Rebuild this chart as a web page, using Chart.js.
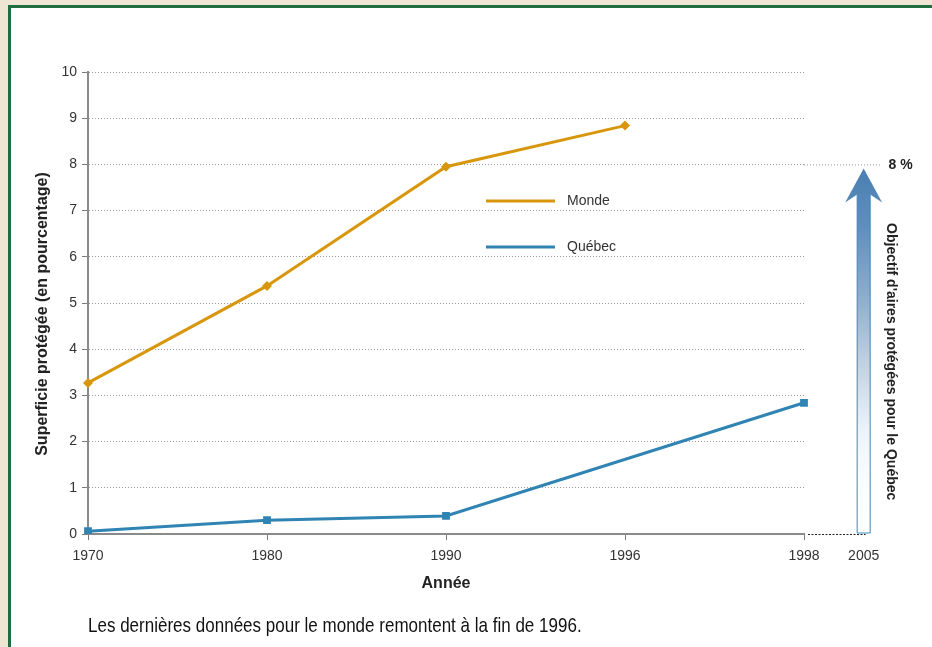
<!DOCTYPE html>
<html lang="fr">
<head>
<meta charset="utf-8">
<script src="https://cdn.jsdelivr.net/npm/chart.js@4.4.1/dist/chart.umd.min.js"></script>
<style>
  html, body { margin: 0; padding: 0; }
  body { width: 932px; height: 647px; overflow: hidden; background: #efe5d3; position: relative; font-family: "Liberation Sans", Arial, sans-serif; }
  #panel { position: absolute; left: 8px; top: 5px; width: 1000px; height: 1000px; background: #fff; border: 3px solid #1f6e40; box-sizing: border-box; }
  #wrap { position: absolute; left: 0; top: 0; width: 932px; height: 647px; }
  #note { position: absolute; left: 88px; top: 613px; font-family: "Liberation Sans", Arial, sans-serif; font-size: 21px; color: #111; white-space: nowrap; transform: scaleX(0.81); transform-origin: 0 0; }
</style>
</head>
<body>
<div id="panel"></div>
<div id="wrap"><canvas id="c" width="932" height="647"></canvas></div>
<div id="note">Les dernières données pour le monde remontent à la fin de 1996.</div>
<script>
// Years on the horizontal axis
const years = ['1970', '1980', '1990', '1996', '1998'];
// Share of protected territory (%)
const monde = [3.27, 5.37, 7.95, 8.84, null];
const quebec = [0.06, 0.30, 0.39, null, 2.84];
// Québec target
const objectifAnnee = '2005';
const objectifValeur = 8;
const objectifTexte = "Objectif d'aires protégées pour le Québec";
const titreY = 'Superficie protégée (en pourcentage)';

const FONT = '"Liberation Sans", Arial, sans-serif';

// Legend, target arrow, y title and extra guide lines
const extras = {
  id: 'extras',
  afterDraw(chart) {
    const { ctx, chartArea } = chart;
    const xs = chart.scales.x, ys = chart.scales.y;
    const last = xs.getPixelForValue(years.length - 1);
    const step = last - xs.getPixelForValue(years.length - 2);
    const ax = last + step / 3;           // position of 2005
    const y8 = ys.getPixelForValue(objectifValeur);
    const y0 = ys.getPixelForValue(0);

    ctx.save();
    // extended target line at 8 %
    ctx.strokeStyle = '#9a9a9a';
    ctx.lineWidth = 1;
    ctx.setLineDash([1, 2]);
    ctx.beginPath(); ctx.moveTo(chartArea.right, y8 + 0.5); ctx.lineTo(ax + 18, y8 + 0.5); ctx.stroke();
    // dashed baseline toward 2005
    ctx.strokeStyle = '#222';
    ctx.setLineDash([2, 1.5]);
    ctx.beginPath(); ctx.moveTo(last + 4, y0 + 0.5); ctx.lineTo(ax + 2, y0 + 0.5); ctx.stroke();
    ctx.setLineDash([]);

    // arrow
    const tip = y8 + 4, headBase = tip + 34, sw = 6.5, hw = 18.5, bot = y0 - 1;
    const g = ctx.createLinearGradient(0, tip, 0, bot);
    g.addColorStop(0, '#4b7fb2');
    g.addColorStop(0.15, '#5d8dbd');
    g.addColorStop(0.35, '#8eaccc');
    g.addColorStop(0.55, '#c8d3e0');
    g.addColorStop(0.72, '#eef3fa');
    g.addColorStop(0.85, '#fbfcfe');
    g.addColorStop(1, '#ffffff');
    ctx.fillStyle = g;
    ctx.beginPath();
    ctx.moveTo(ax, tip);
    ctx.lineTo(ax + hw, headBase);
    ctx.lineTo(ax + sw, headBase - 8);
    ctx.lineTo(ax + sw, bot);
    ctx.lineTo(ax - sw, bot);
    ctx.lineTo(ax - sw, headBase - 8);
    ctx.lineTo(ax - hw, headBase);
    ctx.closePath();
    ctx.fill();
    ctx.strokeStyle = '#3d88b9';
    ctx.lineWidth = 1;
    ctx.beginPath();
    ctx.moveTo(ax - sw, headBase - 8); ctx.lineTo(ax - sw, bot); ctx.lineTo(ax + sw, bot); ctx.lineTo(ax + sw, headBase - 8);
    ctx.stroke();

    // labels
    ctx.fillStyle = '#222';
    ctx.font = 'bold 14px ' + FONT;
    ctx.textAlign = 'center';
    ctx.textBaseline = 'middle';
    ctx.fillText(objectifValeur + ' %', ax + 37, y8 + 1);
    ctx.font = '14px ' + FONT;
    ctx.fillStyle = '#333';
    ctx.fillText(objectifAnnee, ax, y0 + 22);

    ctx.save();
    ctx.translate(ax + 27, (headBase + bot) / 2 - 6);
    ctx.rotate(Math.PI / 2);
    ctx.font = 'bold 14px ' + FONT;
    ctx.fillStyle = '#222';
    ctx.fillText(objectifTexte, 0, 0);
    ctx.restore();

    // y axis title, set a little below the middle of the axis
    ctx.save();
    ctx.translate(43, (chartArea.top + chartArea.bottom) / 2 + 11);
    ctx.rotate(-Math.PI / 2);
    ctx.font = 'bold 16px ' + FONT;
    ctx.fillStyle = '#222';
    ctx.fillText(titreY, 0, 0);
    ctx.restore();

    // legend
    const items = chart.data.datasets;
    const lx0 = 486, lx1 = 555, ly = [201, 247];
    items.forEach((ds, i) => {
      ctx.strokeStyle = ds.borderColor;
      ctx.lineWidth = 3;
      ctx.beginPath(); ctx.moveTo(lx0, ly[i]); ctx.lineTo(lx1, ly[i]); ctx.stroke();
      ctx.fillStyle = '#333';
      ctx.font = '14px ' + FONT;
      ctx.textAlign = 'left';
      ctx.fillText(ds.label, 567, ly[i]);
    });
    ctx.restore();
  }
};

new Chart(document.getElementById('c'), {
  type: 'line',
  data: {
    labels: years,
    datasets: [
      {
        label: 'Monde',
        data: monde,
        borderColor: '#d8960c',
        backgroundColor: '#d8960c',
        borderWidth: 3,
        pointStyle: 'rectRot',
        pointRadius: 5,
        pointBorderWidth: 0,
        tension: 0,
        spanGaps: false
      },
      {
        label: 'Québec',
        data: quebec,
        borderColor: '#2f84b3',
        backgroundColor: '#2f84b3',
        borderWidth: 3,
        pointStyle: 'rect',
        pointRadius: 5.5,
        pointBorderWidth: 0,
        tension: 0,
        spanGaps: true
      }
    ]
  },
  options: {
    responsive: false,
    animation: false,
    layout: { padding: { left: 29, right: 128, top: 72, bottom: 50 } },
    plugins: { legend: { display: false }, tooltip: { enabled: false } },
    scales: {
      x: {
        offset: false,
        afterFit(s) { s.height = 63; },
        grid: { drawOnChartArea: false, drawTicks: true, tickLength: 6, color: '#7a7a7a', lineWidth: 1 },
        border: { display: true, color: '#8a8a8a', width: 2 },
        ticks: { color: '#333', font: { family: FONT, size: 14 }, padding: 8, maxRotation: 0, autoSkip: false },
        title: { display: true, text: 'Année', color: '#222', font: { family: FONT, size: 16, weight: 'bold' }, padding: { top: 4, bottom: 4 } }
      },
      y: {
        min: 0,
        max: 10,
        afterFit(s) { s.width = 59; },
        grid: { color: '#9a9a9a', lineWidth: 1, drawTicks: true, tickLength: 6, tickColor: '#7a7a7a', tickBorderDash: [] },
        border: { display: true, color: '#8a8a8a', width: 2, dash: [1, 2] },
        ticks: { stepSize: 1, color: '#333', font: { family: FONT, size: 14 }, padding: 5 },
        title: { display: false }
      }
    }
  },
  plugins: [extras]
});
</script>
</body>
</html>
